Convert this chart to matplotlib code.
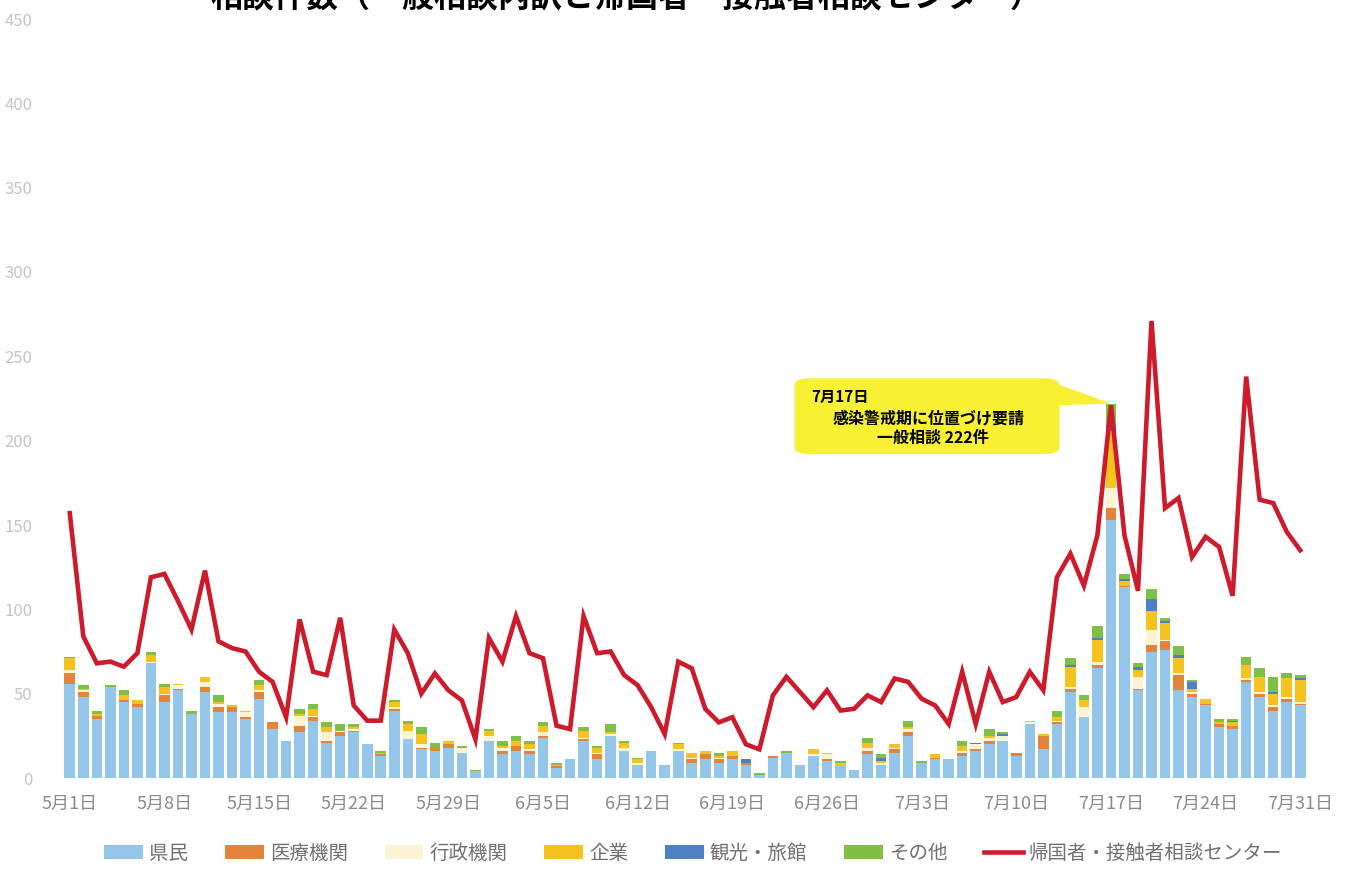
import matplotlib
matplotlib.use("Agg")
import matplotlib.pyplot as plt
from matplotlib.patches import FancyBboxPatch, Polygon
import numpy as np
import pandas as pd

plt.rcParams['font.family'] = ['Noto Sans CJK JP', 'DejaVu Sans']

# Daily consultation counts, 2020-05-01 .. 2020-07-31
dates = pd.date_range("2020-05-01", "2020-07-31", freq="D")

residents = [56, 48, 35, 54, 45, 42, 68, 45, 52, 38, 51, 39, 39, 35, 47,
             29, 22, 27, 34, 21, 25, 27, 20, 13, 40, 23, 17, 16, 18, 15, 4,
             22, 14, 16, 14, 24, 6, 11, 22, 11, 25, 16, 8, 16, 8, 16,
             9, 11, 9, 11, 8, 2, 12, 15, 8, 13, 10, 7, 5, 14, 8, 15,
             25, 9, 11, 11, 13, 16, 20, 22, 13, 32, 17, 32, 51, 36, 65, 153,
             113, 52, 75, 76, 52, 48, 43, 30, 29, 57, 48, 40, 45, 43]
medical = [6, 3, 2, 0, 1, 2, 0, 4, 1, 0, 3, 3, 3, 1, 4,
           4, 0, 4, 2, 1, 2, 1, 0, 1, 1, 0, 1, 2, 2, 0, 0,
           0, 2, 3, 2, 1, 1, 0, 1, 3, 0, 0, 0, 0, 0, 0,
           2, 3, 2, 2, 1, 0, 1, 0, 0, 0, 1, 0, 0, 2, 0, 2,
           2, 0, 1, 0, 2, 1, 2, 0, 2, 0, 8, 1, 2, 0, 2, 7,
           1, 1, 4, 5, 9, 2, 1, 2, 2, 1, 2, 2, 2, 1]
government = [2, 1, 0, 0, 0, 0, 1, 1, 2, 0, 3, 2, 0, 3, 1,
              0, 0, 6, 1, 5, 1, 1, 0, 0, 1, 5, 2, 0, 0, 3, 0,
              3, 2, 0, 1, 2, 0, 0, 1, 1, 1, 2, 1, 0, 0, 1,
              1, 0, 1, 0, 0, 0, 0, 0, 0, 1, 3, 0, 0, 2, 1, 1,
              2, 0, 0, 0, 1, 3, 2, 3, 0, 1, 0, 1, 1, 6, 2, 12,
              0, 7, 9, 1, 1, 1, 0, 0, 0, 1, 1, 1, 1, 1]
business = [7, 1, 1, 0, 3, 2, 4, 4, 1, 0, 3, 1, 1, 1, 3,
            0, 0, 1, 4, 3, 0, 1, 0, 1, 3, 4, 6, 0, 2, 0, 0,
            3, 1, 3, 3, 4, 1, 0, 4, 3, 1, 3, 2, 0, 0, 3,
            3, 2, 1, 3, 0, 0, 0, 0, 0, 3, 1, 2, 0, 3, 1, 2,
            1, 0, 2, 0, 3, 0, 1, 0, 0, 1, 1, 2, 12, 4, 13, 34,
            3, 4, 11, 10, 9, 2, 3, 1, 2, 8, 9, 7, 11, 13]
tourism = [0] * 50 + [2] + [0] * 9 + [2] + [0] * 6 + [1, 0, 1] + [0] * 4 \
    + [1, 0, 1, 3, 1, 2, 7, 1, 2, 4, 0, 0, 1, 0, 0, 1, 0, 1]
other = [1, 2, 2, 1, 3, 0, 2, 2, 0, 2, 0, 4, 0, 0, 3,
         0, 0, 3, 3, 3, 4, 2, 0, 1, 1, 2, 4, 3, 0, 1, 1,
         1, 3, 3, 2, 2, 1, 0, 2, 1, 5, 1, 1, 0, 0, 1,
         0, 0, 2, 0, 0, 1, 0, 1, 0, 0, 0, 1, 0, 3, 2, 0,
         4, 1, 0, 0, 3, 0, 4, 1, 0, 0, 0, 4, 4, 3, 7, 13,
         3, 2, 6, 2, 5, 1, 0, 2, 1, 5, 5, 9, 3, 2]
center = [157, 84, 68, 69, 66, 74, 119, 121, 105, 88, 123, 81, 77, 75, 63,
          57, 36, 94, 63, 61, 95, 43, 34, 34, 88, 74, 50, 62, 52, 46, 23,
          83, 69, 96, 74, 71, 31, 29, 96, 74, 75, 61, 55, 42, 26, 69,
          65, 41, 33, 36, 20, 17, 49, 60, 51, 42, 52, 40, 41, 49, 45, 59,
          57, 47, 43, 32, 63, 32, 63, 45, 48, 63, 52, 119, 133, 114, 144, 221,
          144, 111, 271, 160, 166, 131, 143, 137, 108, 238, 165, 163, 146, 135]

series_names = ["県民", "医療機関", "行政機関", "企業", "観光・旅館", "その他"]
series_values = [residents, medical, government, business, tourism, other]
series_colors = ["#93c6e8", "#e2843c", "#fbf3d2", "#f6c21f", "#4f80c4", "#7fbf45"]
line_name = "帰国者・接触者相談センター"

tick_labels = ["5月1日", "5月8日", "5月15日", "5月22日", "5月29日", "6月5日",
               "6月12日", "6月19日", "6月26日", "7月3日", "7月10日",
               "7月17日", "7月24日", "7月31日"]

x = np.arange(len(dates))

fig = plt.figure(figsize=(13.54, 8.71), dpi=100)
ax = fig.add_axes([63 / 1354, 93 / 871, 1244 / 1354, 759 / 871])

bottom = np.zeros(len(x))
handles = []
for name, vals, col in zip(series_names, series_values, series_colors):
    vals = np.asarray(vals, dtype=float)
    b = ax.bar(x, vals, width=0.78, bottom=bottom, color=col,
               edgecolor="none", label=name, zorder=2)
    handles.append(b)
    bottom += vals

ln, = ax.plot(x, center, color="#cd1b2c", lw=3.3, solid_joinstyle="miter",
              label=line_name, zorder=4)
handles.append(ln)

ax.set_xlim(-0.5, len(x) - 0.5)
ax.set_ylim(0, 450)
ax.set_yticks(np.arange(0, 451, 50))
ax.set_xticks(x[::7])
ax.set_xticklabels(tick_labels)
ax.tick_params(axis="x", length=0, pad=12, labelsize=13, labelcolor="#8a8a8a")
ax.tick_params(axis="y", length=0, pad=22, labelsize=12, labelcolor="#c4c4c4")
for s in ax.spines.values():
    s.set_visible(False)

# Callout for 7/17
i17 = list(tick_labels).index("7月17日") * 7
peak = bottom[i17]
box = FancyBboxPatch((53.6, 192), 19.6, 45,
                     boxstyle="round,pad=0,rounding_size=1.2",
                     mutation_aspect=3.5,
                     fc="#f8f032", ec="none", zorder=5)
ax.add_patch(box)
tail = Polygon([(72.2, 236), (73.2, 221), (i17, peak)], closed=True,
               fc="#f8f032", ec="none", zorder=5)
ax.add_patch(tail)
ax.text(54.8, 226, "7月17日", fontsize=11, fontweight="bold",
        ha="left", va="center", zorder=6)
ax.text(63.5, 213.5, "感染警戒期に位置づけ要請", fontsize=11.5, fontweight="bold",
        ha="center", va="center", zorder=6)
ax.text(63.8, 201.5, "一般相談 222件", fontsize=11.5, fontweight="bold",
        ha="center", va="center", zorder=6)

fig.text(210 / 1354, 1.0 + 2 / 871, "相談件数（一般相談内訳と帰国者・接触者相談センター）",
         fontsize=23, fontweight="bold", ha="left", va="center")

fig.legend(handles=handles, labels=series_names + [line_name],
           loc="center", bbox_to_anchor=(0.512, 18 / 871), ncol=7,
           frameon=False, fontsize=14, labelcolor="#707070",
           handlelength=2.0, handleheight=0.7, handletextpad=0.3,
           columnspacing=1.9)

fig.savefig("out.png", dpi=100, facecolor="white")
